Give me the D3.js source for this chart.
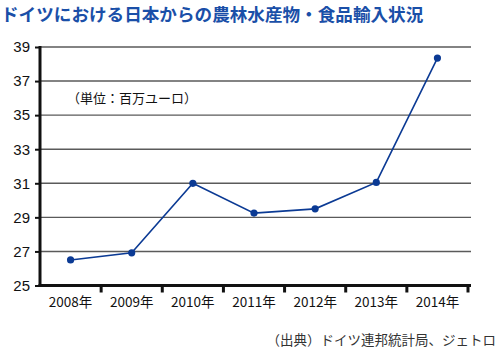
<!DOCTYPE html>
<html>
<head>
<meta charset="utf-8">
<script src="https://cdn.jsdelivr.net/npm/d3@7"></script>
<style>
  body { margin: 0; background: #fff; }
  svg text { font-family: "Noto Sans CJK JP", sans-serif; }
</style>
</head>
<body>
<div class="chart"></div>
<script>
// データ（単位：百万ユーロ）
const years = ['2008年', '2009年', '2010年', '2011年', '2012年', '2013年', '2014年']
const values = [26.5, 26.92, 31.0, 29.25, 29.5, 31.05, 38.35]
const yTicks = [25, 27, 29, 31, 33, 35, 37, 39]

const title = 'ドイツにおける日本からの農林水産物・食品輸入状況'
const unitLabel = '（単位：百万ユーロ）'
const sourceLabel = '（出典）ドイツ連邦統計局、ジェトロ'

const width = 500, height = 353
const margin = {top: 47, right: 32, bottom: 68, left: 40}

const svg = d3.select('.chart').append('svg')
  .attr('width', width).attr('height', height)

// スケール
const xScale = d3.scaleBand().domain(years)
  .range([margin.left, 468])
const yScale = d3.scaleLinear().domain([25, 39])
  .range([height - margin.bottom + 0.5, margin.top])

// グリッド線
svg.append('g').selectAll('line')
  .data(yTicks.filter(d => d > 25))
  .join('line')
  .attr('x1', margin.left).attr('x2', 471)
  .attr('y1', d => yScale(d)).attr('y2', d => yScale(d))
  .attr('stroke', '#5a5a5a').attr('stroke-width', 1.4)

// y軸
const yAxis = d3.axisLeft(yScale).tickValues(yTicks).tickSize(5).tickPadding(5)
const yAxisDraw = svg.append('g')
  .attr('transform', `translate(${margin.left},0)`)
  .call(yAxis)
yAxisDraw.select('.domain').attr('stroke', '#111').attr('stroke-width', 3)
  .attr('d', `M0,${yScale(39) - 1}V${yScale(25) + 1.5}`)
yAxisDraw.selectAll('.tick line').attr('stroke', '#111').attr('stroke-width', 2)
yAxisDraw.selectAll('text')
  .style('font-family', '"Liberation Sans", Arial, sans-serif')
  .style('font-size', '15px').attr('fill', '#111')

// x軸
const xAxis = d3.axisBottom(xScale).tickSize(0).tickPadding(12)
const xAxisDraw = svg.append('g')
  .attr('transform', `translate(0,${yScale(25)})`)
  .call(xAxis)
xAxisDraw.select('.domain').attr('stroke', '#111').attr('stroke-width', 3)
  .attr('d', `M${margin.left - 1.5},0H471`)
xAxisDraw.selectAll('text').style('font-size', '13.5px').attr('fill', '#111')
// 区切り目盛り
xAxisDraw.append('g').selectAll('line')
  .data(years.slice(1).concat(['end']))
  .join('line')
  .attr('x1', d => d === 'end' ? xScale.range()[1] : xScale(d))
  .attr('x2', d => d === 'end' ? xScale.range()[1] : xScale(d))
  .attr('y1', 0).attr('y2', 7)
  .attr('stroke', '#111').attr('stroke-width', 3)

// 折れ線
const data = years.map((y, i) => ({year: y, value: values[i]}))
const line = d3.line()
  .x(d => xScale(d.year) + xScale.bandwidth() / 2)
  .y(d => yScale(d.value))
svg.append('path').datum(data)
  .attr('d', line)
  .attr('fill', 'none').attr('stroke', '#0b3a94').attr('stroke-width', 1.6)
svg.append('g').selectAll('circle').data(data)
  .join('circle')
  .attr('cx', d => xScale(d.year) + xScale.bandwidth() / 2)
  .attr('cy', d => yScale(d.value))
  .attr('r', 3.6).attr('fill', '#0b3a94')

// テキスト
svg.append('text').text(title)
  .attr('x', 1).attr('y', 21)
  .style('font-size', '17.6px').style('font-weight', 'bold')
  .attr('fill', '#1a4fa8')
svg.append('text').text(unitLabel)
  .attr('x', 67).attr('y', 103)
  .style('font-size', '13px').attr('fill', '#111')
svg.append('text').text(sourceLabel)
  .attr('x', 496).attr('y', 345).attr('text-anchor', 'end')
  .style('font-size', '13.5px').attr('fill', '#333')
</script>
</body>
</html>
